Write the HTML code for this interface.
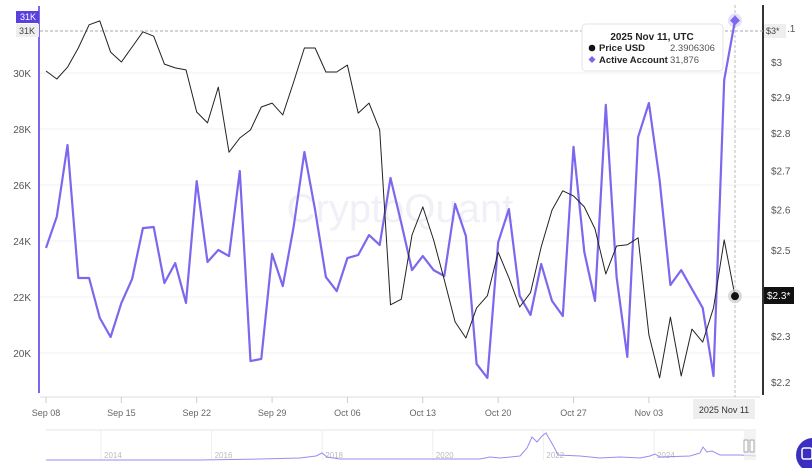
<!DOCTYPE html>
<html><head><meta charset="utf-8"><style>
body{margin:0;background:#fff;font-family:"Liberation Sans",sans-serif;}
svg text{font-family:"Liberation Sans",sans-serif;}
</style></head><body>
<svg id="chart" width="812" height="468" viewBox="0 0 812 468" xmlns="http://www.w3.org/2000/svg">
<g id="grid"></g>
<text x="400" y="222" font-size="40" fill="#f1f0f7" text-anchor="middle">CryptoQuant</text>
<g id="lyaxis"></g>
<g id="ryaxis"></g>
<g id="xaxis"></g>
<g id="series"></g>
<g id="nav"></g>
</svg>
<script>
const dates=["Sep 08","Sep 15","Sep 22","Sep 29","Oct 06","Oct 13","Oct 20","Oct 27","Nov 03"];
const leftTicks=[20,22,24,26,28,30];
const rightTicks=[2.2,2.3,2.5,2.6,2.7,2.8,2.9,3];
const activeK=[23.75,24.87,27.43,22.68,22.68,21.25,20.57,21.79,22.64,24.46,24.5,22.5,23.21,21.79,26.14,23.25,23.68,23.46,26.5,19.71,19.79,23.54,22.39,24.5,27.18,25.11,22.71,22.21,23.39,23.5,24.21,23.86,26.25,
24.64,22.96,23.46,22.96,22.75,25.32,24.18,19.61,19.11,23.96,25.14,22.04,21.36,23.18,21.86,21.32,27.36,23.61,21.86,28.86,22.71,19.86,27.71,28.93,26.18,22.43,22.96,22.29,21.61,19.18,29.75,31.876];
const price=[2.974,2.951,2.985,3.041,3.110,3.122,3.029,3.000,3.044,3.089,3.076,2.994,2.983,2.977,2.858,2.828,2.928,2.749,2.787,2.809,2.872,2.883,2.850,2.942,3.041,3.041,2.971,2.971,2.991,2.855,2.883,2.809,2.371,
2.384,2.537,2.607,2.525,2.429,2.332,2.296,2.364,2.392,2.495,2.434,2.366,2.399,2.508,2.599,2.648,2.635,2.607,2.552,2.443,2.510,2.513,2.530,2.303,2.209,2.343,2.213,2.316,2.287,2.364,2.525,2.391];
const navYears=["2014","2016","2018","2020","2022","2024"];

const NS="http://www.w3.org/2000/svg";
function mk(tag,attrs,parent,txt){const e=document.createElementNS(NS,tag);for(const k in attrs)e.setAttribute(k,attrs[k]);if(txt!==undefined)e.textContent=txt;parent.appendChild(e);return e;}
const X=i=>46+i*(689/64);
const YL=v=>73-(v-30)*28;
const YR=p=>62+1032*Math.log(3/p);
const grid=document.getElementById('grid'),ly=document.getElementById('lyaxis'),ry=document.getElementById('ryaxis'),xa=document.getElementById('xaxis'),se=document.getElementById('series'),nav=document.getElementById('nav');

leftTicks.forEach(v=>{
 const l=mk('line',{x1:40,x2:760,y1:YL(v),y2:YL(v),stroke:'#f0f0f3','stroke-width':1},grid);
 
 
 const t=mk('text',{x:31,y:YL(v)+4,'font-size':10,fill:'#555','text-anchor':'end'},ly,v+'K');
 
 
});
mk('line',{x1:39,x2:39,y1:6,y2:393,stroke:'#7b68ee','stroke-width':2},ly);
rightTicks.forEach(p=>{
 const t=mk('text',{x:771,y:YR(p)+4,'font-size':10,fill:'#555'},ry,'$'+p);
 
 
});
mk('text',{x:787,y:32,'font-size':10,fill:'#555'},ry,'.1');
mk('line',{x1:763,x2:763,y1:5,y2:395,stroke:'#333','stroke-width':2},ry);

mk('line',{x1:40,x2:760,y1:397,y2:397,stroke:'#ddd'},xa);
dates.forEach((d,i)=>{
 const x=X(i*7);
 mk('line',{x1:x,x2:x,y1:397,y2:403,stroke:'#ccc'},xa);
 const t=mk('text',{x:x,y:416,'font-size':9,fill:'#666','text-anchor':'middle'},xa,d);
 
 
});

mk('line',{x1:40,x2:763,y1:31,y2:31,stroke:'#aaa','stroke-dasharray':'3,2'},se);
mk('line',{x1:735,x2:735,y1:5,y2:397,stroke:'#bbb','stroke-dasharray':'3,2'},se);

const pp=activeK.map((v,i)=>X(i).toFixed(1)+','+YL(v).toFixed(1)).join(' ');
const pl=mk('polyline',{points:pp,fill:'none',stroke:'#7b68ee','stroke-width':2.2,'stroke-linejoin':'round'},se);


const pr=price.map((v,i)=>X(i).toFixed(1)+','+YR(v).toFixed(1)).join(' ');
const pl2=mk('polyline',{points:pr,fill:'none',stroke:'#222','stroke-width':1,'stroke-linejoin':'round'},se);



const lx=X(64),ay=YL(activeK[64]),py=YR(price[64]);
mk('circle',{cx:lx,cy:ay,r:7,fill:'#7b68ee',opacity:0.2},se);
const dm=mk('rect',{x:lx-3.5,y:ay-3.5,width:7,height:7,fill:'#7b68ee',transform:`rotate(45 ${lx} ${ay})`},se);


mk('circle',{cx:lx,cy:py,r:7,fill:'#ccc',opacity:0.7},se);
const bd=mk('circle',{cx:lx,cy:py,r:4,fill:'#111'},se);



mk('rect',{x:16,y:11,width:23,height:12,fill:'#5b3fe0'},ly);
mk('text',{x:20,y:20,'font-size':9,fill:'#fff'},ly,'31K');
mk('rect',{x:16,y:24,width:23,height:13,fill:'#eee'},ly);
mk('text',{x:19,y:34,'font-size':9,fill:'#444'},ly,'31K');
mk('rect',{x:764,y:24,width:22,height:14,fill:'#eee'},ry);
mk('text',{x:766,y:34,'font-size':9,fill:'#444'},ry,'$3*');
mk('rect',{x:764,y:287,width:30,height:17,fill:'#111'},ry);
mk('text',{x:767,y:299,'font-size':10,fill:'#fff'},ry,'$2.3*');
mk('rect',{x:693,y:399,width:62,height:20,fill:'#eee'},xa);
mk('text',{x:724,y:413,'font-size':9,fill:'#333','text-anchor':'middle'},xa,'2025 Nov 11');

const tt=mk('g',{},se);


mk('rect',{x:582,y:24,width:141,height:47,rx:4,fill:'#fff',stroke:'#e3e3e3'},tt);
mk('text',{x:652,y:40,'font-size':10,'font-weight':'bold',fill:'#222','text-anchor':'middle'},tt,'2025 Nov 11, UTC');
mk('circle',{cx:592,cy:48,r:3.3,fill:'#111'},tt);
mk('text',{x:599,y:51,'font-size':9.5,'font-weight':'bold',fill:'#222'},tt,'Price USD');
mk('text',{x:670,y:51,'font-size':9.5,fill:'#555'},tt,'2.3906306');
mk('rect',{x:589.5,y:57,width:5,height:5,fill:'#7b68ee',transform:'rotate(45 592 59.5)'},tt);
mk('text',{x:599,y:63,'font-size':9.5,'font-weight':'bold',fill:'#222'},tt,'Active Account');
mk('text',{x:670,y:63,'font-size':9.5,fill:'#555'},tt,'31,876');

mk('line',{x1:46,x2:756,y1:430,y2:430,stroke:'#e5e5e5'},nav);
navYears.forEach((y,i)=>{
 const x=101+i*110.6;
 mk('line',{x1:x,x2:x,y1:430,y2:460,stroke:'#eee'},nav);
 const t=mk('text',{x:x+3,y:458,'font-size':8,fill:'#bbb'},nav,y);
 
 
});
mk('polyline',{points:'46,460 200,460 260,459 300,458 316,456 322,453 327,457 340,459 400,459 480,459 490,457 500,458 520,456 527,448 532,437 537,442 542,436 546,433 550,440 554,447 558,455 580,456 600,458 620,457 640,458 650,456 655,454 660,457 690,456 700,453 703,447 707,452 712,451 720,455 740,455 756,456',fill:'none',stroke:'#9a8cf0','stroke-width':1},nav);
mk('rect',{x:744,y:431,width:12,height:29,fill:'#eee',opacity:0.7},nav);
mk('rect',{x:744,y:440,width:4,height:12,fill:'#fff',stroke:'#888','stroke-width':0.7},nav);
mk('rect',{x:750,y:440,width:4,height:12,fill:'#fff',stroke:'#888','stroke-width':0.7},nav);
const cb=mk('circle',{cx:813,cy:455,r:17,fill:'#3b2fc0'},nav);


mk('rect',{x:802,y:448,width:10,height:11,rx:2,fill:'none',stroke:'#fff','stroke-width':1.5},nav);
</script>
</body></html>
